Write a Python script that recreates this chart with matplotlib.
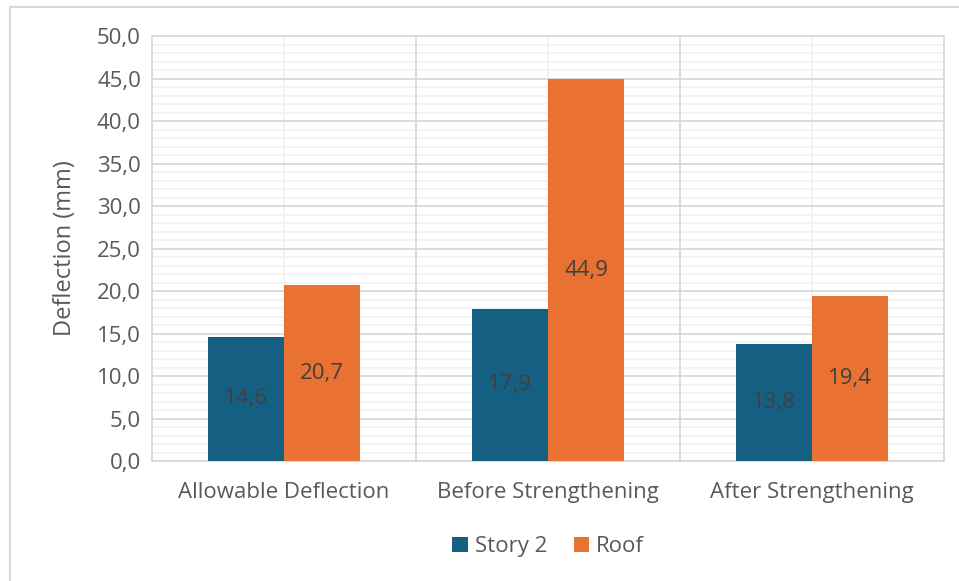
import matplotlib.pyplot as plt
from matplotlib.ticker import MultipleLocator, FuncFormatter
from matplotlib.lines import Line2D
import numpy as np

categories = ["Allowable Deflection", "Before Strengthening", "After Strengthening"]
story2 = [14.6, 17.9, 13.8]
roof = [20.7, 44.9, 19.4]
series_names = ["Story 2", "Roof"]

blue = "#156082"
orange = "#E97132"
txt = "#595959"

plt.rcParams['font.family'] = ['Open Sans', 'DejaVu Sans']

fig = plt.figure(figsize=(9.59, 5.81), dpi=100)
ax = fig.add_axes([0.1585, 0.2065, 0.826, 0.7315])

x = np.arange(len(categories))
w = 0.288
b1 = ax.bar(x - w / 2, story2, w, color=blue, label=series_names[0], zorder=3)
b2 = ax.bar(x + w / 2, roof, w, color=orange, label=series_names[1], zorder=3)

fmt = lambda v: f"{v:.1f}".replace(".", ",")
for bars, vals in [(b1, story2), (b2, roof)]:
    for r, v in zip(bars, vals):
        ax.text(r.get_x() + r.get_width() / 2, v / 2, fmt(v), ha='center', va='center',
                fontsize=16, color="#404040", zorder=4)

ax.set_ylim(0, 50)
ax.set_xlim(-0.5, 2.5)
ax.yaxis.set_major_locator(MultipleLocator(5))
ax.yaxis.set_minor_locator(MultipleLocator(1))
ax.yaxis.set_major_formatter(FuncFormatter(lambda v, p: fmt(v)))
ax.grid(axis='y', which='major', color="#D9D9D9", lw=1.3, zorder=0)
ax.grid(axis='y', which='minor', color="#F2F2F2", lw=1.3, zorder=0)
for xb in [0.5, 1.5]:
    ax.axvline(xb, color="#D9D9D9", lw=1.3, zorder=2)
for xc in x:
    ax.axvline(xc, color="#F2F2F2", lw=1.3, zorder=1)

ax.set_xticks(x)
ax.set_xticklabels(categories)
ax.tick_params(axis='both', which='both', length=0, labelsize=16, labelcolor=txt)
ax.tick_params(axis='x', pad=15)
ax.tick_params(axis='y', pad=8)
for s in ax.spines.values():
    s.set_color("#D9D9D9")
    s.set_linewidth(1.3)

ax.set_ylabel("Deflection (mm)", fontsize=17, color=txt, labelpad=14)

ax.legend(loc='upper center', bbox_to_anchor=(0.5, -0.13), ncol=2, frameon=False,
          fontsize=16, labelcolor=txt, handlelength=0.7, handleheight=0.7,
          handletextpad=0.3, columnspacing=1.2)

# outer chart frame (only top and left edges visible in the crop)
fig.add_artist(Line2D([10 / 959, 1], [1 - 7 / 581, 1 - 7 / 581], transform=fig.transFigure,
                      color="#D9D9D9", lw=1.5))
fig.add_artist(Line2D([10 / 959, 10 / 959], [0, 1 - 7 / 581], transform=fig.transFigure,
                      color="#D9D9D9", lw=1.5))

fig.savefig("out.png", dpi=100)
